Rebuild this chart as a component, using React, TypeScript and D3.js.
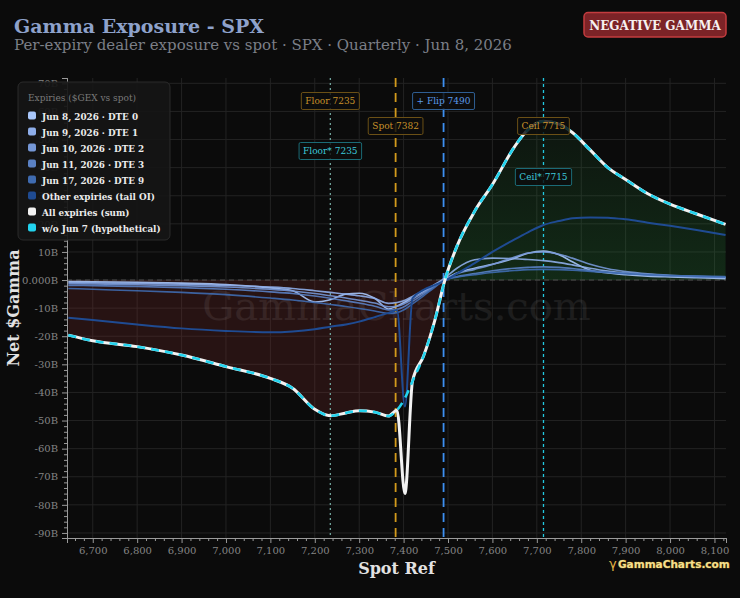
import React, { useEffect, useRef } from "react";
import * as d3 from "d3";

// Spot reference grid shared by every exposure curve
const strikes = [
  6645, 6700, 6800, 6900, 7000, 7100, 7150, 7200, 7235, 7270, 7300, 7335,
  7366, 7385, 7403, 7420, 7445, 7470, 7493, 7520, 7560, 7600, 7650, 7680,
  7715, 7750, 7780, 7820, 7860, 7900, 7950, 8000, 8060, 8125,
];

// Net dealer gamma per expiry, $B
const dte0 = [
  -0.5, -0.6, -0.8, -1.1, -1.6, -2.8, -3.8, -7.8, -7.0, -5.0, -4.7, -6.5,
  -10.3, -9.3, -7.8, -6.2, -4.0, -1.8, 0.3, 2.5, 4.2, 5.6, 7.8, 9.5,
  10.3, 9.0, 6.5, 3.5, 2.5, 1.9, 1.4, 1.1, 0.8, 0.5,
];
const dte1 = [
  -0.9, -1.0, -1.2, -1.5, -1.9, -2.5, -3.0, -3.8, -4.4, -5.0, -5.6, -6.6,
  -8.3, -8.0, -7.2, -5.8, -3.8, -1.6, 0.8, 4.2, 7.2, 7.8, 7.6, 7.3,
  6.9, 6.2, 5.4, 4.2, 3.2, 2.5, 1.9, 1.5, 1.1, 0.8,
];
const dte2 = [
  -1.3, -1.4, -1.7, -2.0, -2.5, -3.3, -3.9, -4.8, -5.6, -6.4, -7.2, -8.2,
  -9.5, -9.3, -8.3, -6.8, -4.5, -2.0, 0.3, 2.2, 3.8, 5.5, 8.2, 9.6,
  10.0, 9.2, 7.8, 5.6, 4.0, 3.0, 2.2, 1.7, 1.3, 1.0,
];
const dte3 = [
  -1.9, -2.0, -2.3, -2.7, -3.3, -4.2, -4.8, -5.7, -6.5, -7.4, -8.2, -9.3,
  -10.6, -10.4, -9.3, -7.6, -5.0, -2.3, 0.1, 1.2, 2.3, 3.3, 4.2, 4.5,
  4.7, 4.5, 4.1, 3.4, 2.8, 2.3, 1.8, 1.5, 1.2, 1.0,
];
const dte9 = [
  -3.0, -3.3, -3.8, -4.4, -5.2, -6.4, -7.1, -8.0, -8.7, -9.4, -10.1, -11.0,
  -11.9, -11.6, -10.4, -8.5, -5.6, -2.6, 0.0, 1.0, 1.9, 2.7, 3.4, 3.7,
  3.8, 3.7, 3.5, 3.1, 2.7, 2.3, 1.9, 1.6, 1.4, 1.2,
];
const tailOI = [
  -13.4, -14.2, -15.8, -17.2, -18.1, -18.6, -18.3, -17.5, -16.6, -15.8, -14.8, -13.2,
  -11.7, -10.7, -45.0, -6.5, -3.5, -1.8, -0.3, 2.3, 6.0, 10.0, 14.5, 17.0,
  19.6, 21.0, 22.0, 22.3, 22.2, 21.6, 20.4, 19.3, 17.8, 16.0,
];
const allExpiries = [
  -19.6, -21.6, -23.7, -26.7, -30.8, -35.0, -38.5, -46.0, -48.3, -47.3, -46.5, -47.0,
  -48.4, -46.3, -76.0, -36.0, -27.0, -14.5, 0.0, 12.0, 24.5, 34.0, 47.5, 53.5,
  56.5, 55.5, 52.5, 46.3, 40.0, 35.8, 30.7, 27.0, 23.5, 19.8,
];
const withoutJun7 = [
  -19.6, -21.6, -23.7, -26.7, -30.8, -35.0, -38.5, -46.0, -48.3, -47.3, -46.5, -47.0,
  -48.4, -46.3, -42.0, -36.0, -27.0, -14.5, 0.0, 12.0, 24.5, 34.0, 47.5, 53.5,
  56.5, 55.5, 52.5, 46.3, 40.0, 35.8, 30.7, 27.0, 23.5, 19.8,
];

const seriesNames = [
  "Jun 8, 2026 · DTE 0",
  "Jun 9, 2026 · DTE 1",
  "Jun 10, 2026 · DTE 2",
  "Jun 11, 2026 · DTE 3",
  "Jun 17, 2026 · DTE 9",
  "Other expiries (tail OI)",
  "All expiries (sum)",
  "w/o Jun 7 (hypothetical)",
];
const seriesValues = [dte0, dte1, dte2, dte3, dte9, tailOI, allExpiries, withoutJun7];
const seriesColors = ["#a9c7fb", "#8eaeea", "#7597d6", "#5a81c4", "#3f6bb0", "#1f4b92", "#f2f2f2", "#22d3ee"];

// Key levels marked on the spot axis
const levelNames = ["Floor 7235", "Spot 7382", "+ Flip 7490", "Ceil 7715", "Floor* 7235", "Ceil* 7715"];
const levelValues = [7235, 7382, 7490, 7715, 7235, 7715];

const yTicks = d3.range(-90, 71, 10);
const xTicks = d3.range(6700, 8101, 100);

const SERIF = "'DejaVu Serif', serif";

export default function App() {
  const ref = useRef<SVGSVGElement>(null);

  useEffect(() => {
    const width = 740;
    const height = 598;
    const plot = { left: 67, right: 726, top: 78, bottom: 538 };

    const svg = d3.select(ref.current);
    svg.selectAll("*").remove();

    const x = d3.scaleLinear().domain([6642, 8126]).range([plot.left, plot.right]);
    const y = d3.scaleLinear().domain([-91.8, 71.9]).range([plot.bottom, plot.top]);

    svg.append("rect").attr("width", width).attr("height", height).attr("fill", "#0b0b0b");

    const defs = svg.append("defs");
    defs
      .append("clipPath")
      .attr("id", "below-zero")
      .append("rect")
      .attr("x", plot.left)
      .attr("y", y(0))
      .attr("width", plot.right - plot.left)
      .attr("height", plot.bottom - y(0));
    defs
      .append("clipPath")
      .attr("id", "above-zero")
      .append("rect")
      .attr("x", plot.left)
      .attr("y", plot.top)
      .attr("width", plot.right - plot.left)
      .attr("height", y(0) - plot.top);
    const grad = defs
      .append("linearGradient")
      .attr("id", "green-fill")
      .attr("gradientUnits", "userSpaceOnUse")
      .attr("x1", 0)
      .attr("x2", 0)
      .attr("y1", y(57))
      .attr("y2", y(0));
    grad.append("stop").attr("offset", "0%").attr("stop-color", "rgba(40,140,60,0.08)");
    grad.append("stop").attr("offset", "100%").attr("stop-color", "rgba(40,140,60,0.24)");

    // Grid
    const grid = svg.append("g");
    grid
      .selectAll("line.vx")
      .data(xTicks)
      .join("line")
      .attr("x1", (d) => x(d))
      .attr("x2", (d) => x(d))
      .attr("y1", plot.top)
      .attr("y2", plot.bottom)
      .attr("stroke", "#232323");
    grid
      .selectAll("line.hy")
      .data(yTicks)
      .join("line")
      .attr("x1", plot.left)
      .attr("x2", plot.right)
      .attr("y1", (d) => y(d))
      .attr("y2", (d) => y(d))
      .attr("stroke", "#232323");

    // Shaded regime between zero and the hypothetical curve
    const pts = strikes.map((s, i) => [s, withoutJun7[i]] as [number, number]);
    const area = d3
      .area<[number, number]>()
      .x((d) => x(d[0]))
      .y0(y(0))
      .y1((d) => y(d[1]))
      .curve(d3.curveMonotoneX);
    svg
      .append("path")
      .attr("d", area(pts))
      .attr("fill", "rgba(125,45,45,0.25)")
      .attr("clip-path", "url(#below-zero)");
    svg
      .append("path")
      .attr("d", area(pts))
      .attr("fill", "url(#green-fill)")
      .attr("clip-path", "url(#above-zero)");

    svg
      .append("line")
      .attr("x1", plot.left)
      .attr("x2", plot.right)
      .attr("y1", y(0))
      .attr("y2", y(0))
      .attr("stroke", "#4d4d4d")
      .attr("stroke-dasharray", "5,4");

    // Watermark
    svg
      .append("text")
      .attr("x", (plot.left + plot.right) / 2)
      .attr("y", 320)
      .attr("text-anchor", "middle")
      .attr("font-family", SERIF)
      .attr("font-size", 40)
      .attr("fill", "#ffffff")
      .attr("opacity", 0.07)
      .text("GammaCharts.com");

    // Level lines
    const lineStyles = [
      { stroke: "#6fa39c", dash: "2,3", w: 1.3 },
      { stroke: "#d39a1c", dash: "9,6", w: 1.8 },
      { stroke: "#3d8ff0", dash: "9,6", w: 1.8 },
      { stroke: "#22c8e0", dash: "3,3", w: 1.3 },
    ];
    levelValues.slice(0, 4).forEach((v, i) => {
      svg
        .append("line")
        .attr("x1", x(v))
        .attr("x2", x(v))
        .attr("y1", plot.top)
        .attr("y2", plot.bottom)
        .attr("stroke", lineStyles[i].stroke)
        .attr("stroke-width", lineStyles[i].w)
        .attr("stroke-dasharray", lineStyles[i].dash);
    });

    // Exposure curves
    const line = d3
      .line<[number, number]>()
      .x((d) => x(d[0]))
      .y((d) => y(d[1]))
      .curve(d3.curveMonotoneX);
    seriesValues.forEach((vals, i) => {
      const p = svg
        .append("path")
        .attr("d", line(strikes.map((s, j) => [s, vals[j]] as [number, number])))
        .attr("fill", "none")
        .attr("stroke", seriesColors[i])
        .attr("stroke-linejoin", "round");
      if (i < 5) p.attr("stroke-width", 1.6).attr("opacity", 0.9);
      else if (i === 5) p.attr("stroke-width", 2);
      else if (i === 6) p.attr("stroke-width", 3);
      else p.attr("stroke-width", 2.6).attr("stroke-dasharray", "8,6");
    });

    // Axes
    const tickText = (g: any) =>
      g
        .selectAll("text")
        .attr("fill", "#858585")
        .attr("font-family", SERIF)
        .attr("font-size", 10);
    const xAxis = svg
      .append("g")
      .attr("transform", `translate(0,${plot.bottom})`)
      .call(d3.axisBottom(x).tickValues(xTicks).tickFormat(d3.format(",") as any).tickSize(5).tickPadding(4));
    const xMinor = svg
      .append("g")
      .attr("transform", `translate(0,${plot.bottom})`)
      .call(
        d3
          .axisBottom(x)
          .tickValues(d3.range(6660, 8126, 20).filter((v) => v % 100 !== 0))
          .tickFormat(() => "")
          .tickSize(3)
      );
    const yAxis = svg
      .append("g")
      .attr("transform", `translate(${plot.left},0)`)
      .call(
        d3
          .axisLeft(y)
          .tickValues(yTicks)
          .tickFormat((d: any) => (d === 0 ? "0.000B" : `${d}B`))
          .tickSize(5)
          .tickPadding(4)
      );
    const yMinor = svg
      .append("g")
      .attr("transform", `translate(${plot.left},0)`)
      .call(
        d3
          .axisLeft(y)
          .tickValues(d3.range(-90, 72, 2).filter((v) => v % 10 !== 0))
          .tickFormat(() => "")
          .tickSize(3)
      );
    [xAxis, xMinor, yAxis, yMinor].forEach((g) => {
      g.select(".domain").attr("stroke", "#9a9a9a");
      g.selectAll(".tick line").attr("stroke", "#9a9a9a");
      tickText(g);
    });

    // Level labels
    const labelColors = [
      { text: "#c8922a", border: "#6b5016" },
      { text: "#c8922a", border: "#6b5016" },
      { text: "#5b9ae8", border: "#2f5e92" },
      { text: "#c8922a", border: "#6b5016" },
      { text: "#3dc9da", border: "#1b6b76" },
      { text: "#3dc9da", border: "#1b6b76" },
    ];
    const labelRows = [101, 126, 101, 126, 151, 177];
    levelNames.forEach((name, i) => {
      const g = svg.append("g");
      const rect = g.append("rect");
      const t = g
        .append("text")
        .attr("x", x(levelValues[i]))
        .attr("y", labelRows[i] + 3.3)
        .attr("text-anchor", "middle")
        .attr("font-family", SERIF)
        .attr("font-size", 9)
        .attr("fill", labelColors[i].text)
        .text(name);
      const w = (t.node() as SVGTextElement).getComputedTextLength() + 8;
      rect
        .attr("x", x(levelValues[i]) - w / 2)
        .attr("y", labelRows[i] - 8.5)
        .attr("width", w)
        .attr("height", 17)
        .attr("rx", 1.5)
        .attr("fill", "rgba(12,12,12,0.82)")
        .attr("stroke", labelColors[i].border)
        .attr("stroke-width", 1);
    });

    // Legend
    const legend = svg.append("g").attr("transform", "translate(18,82)");
    legend
      .append("rect")
      .attr("width", 152)
      .attr("height", 158)
      .attr("rx", 5)
      .attr("fill", "rgba(22,22,22,0.93)")
      .attr("stroke", "#2b2b2b");
    legend
      .append("text")
      .attr("x", 10)
      .attr("y", 19)
      .attr("font-family", SERIF)
      .attr("font-size", 9)
      .attr("fill", "#7a7a7a")
      .text("Expiries ($GEX vs spot)");
    seriesNames.forEach((name, i) => {
      const row = legend.append("g").attr("transform", `translate(10,${29.5 + i * 16})`);
      row
        .append("rect")
        .attr("width", 8)
        .attr("height", 8)
        .attr("rx", 2)
        .attr("fill", seriesColors[i]);
      row
        .append("text")
        .attr("x", 14)
        .attr("y", 8)
        .attr("font-family", SERIF)
        .attr("font-size", 8.8)
        .attr("font-weight", "bold")
        .attr("fill", "#ececec")
        .text(name);
    });

    // Titles
    svg
      .append("text")
      .attr("x", 14)
      .attr("y", 33)
      .attr("font-family", SERIF)
      .attr("font-size", 19)
      .attr("font-weight", "bold")
      .attr("fill", "#8ea2cb")
      .text("Gamma Exposure - SPX");
    svg
      .append("text")
      .attr("x", 14)
      .attr("y", 50)
      .attr("font-family", SERIF)
      .attr("font-size", 15)
      .attr("fill", "#7b7f87")
      .text("Per-expiry dealer exposure vs spot · SPX · Quarterly · Jun 8, 2026");

    svg
      .append("text")
      .attr("x", (plot.left + plot.right) / 2)
      .attr("y", 574)
      .attr("text-anchor", "middle")
      .attr("font-family", SERIF)
      .attr("font-size", 16)
      .attr("font-weight", "bold")
      .attr("fill", "#e2e2e2")
      .text("Spot Ref");
    svg
      .append("text")
      .attr("transform", `translate(19,${(plot.top + plot.bottom) / 2}) rotate(-90)`)
      .attr("text-anchor", "middle")
      .attr("font-family", SERIF)
      .attr("font-size", 16)
      .attr("font-weight", "bold")
      .attr("fill", "#e2e2e2")
      .text("Net $Gamma");

    // Regime badge
    svg
      .append("rect")
      .attr("x", 584)
      .attr("y", 12.5)
      .attr("width", 142)
      .attr("height", 24.5)
      .attr("rx", 4)
      .attr("fill", "#7c2327")
      .attr("stroke", "#c43c3f")
      .attr("stroke-width", 1.5);
    svg
      .append("text")
      .attr("x", 655)
      .attr("y", 29.5)
      .attr("text-anchor", "middle")
      .attr("font-family", SERIF)
      .attr("font-size", 12)
      .attr("font-weight", "bold")
      .attr("fill", "#f6f0f0")
      .text("NEGATIVE GAMMA");

    // Brand mark
    svg
      .append("text")
      .attr("x", 609)
      .attr("y", 568)
      .attr("font-family", "'DejaVu Sans', sans-serif")
      .attr("font-size", 13)
      .attr("fill", "#e0b445")
      .text("γ");
    svg
      .append("text")
      .attr("x", 618)
      .attr("y", 568)
      .attr("font-family", "'DejaVu Sans', sans-serif")
      .attr("font-size", 10.5)
      .attr("font-weight", "bold")
      .attr("fill", "#f6e08f")
      .attr("stroke", "#8a6616")
      .attr("stroke-width", 0.7)
      .attr("paint-order", "stroke")
      .text("GammaCharts.com");
  }, []);

  return (
    <div style={{ position: "fixed", left: 0, top: 0 }}>
      <svg ref={ref} width={740} height={598} />
    </div>
  );
}
